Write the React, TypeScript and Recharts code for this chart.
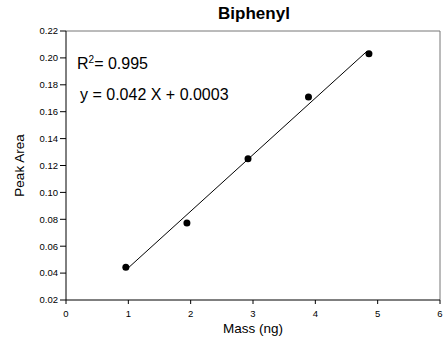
import { ScatterChart, Scatter, XAxis, YAxis, ReferenceLine } from "recharts";

// measured points
const massNg = [0.96, 1.94, 2.92, 3.89, 4.86];
const peakArea = [0.0444, 0.0772, 0.125, 0.171, 0.203];

// ends of the fitted line as drawn
const fitMass = [0.99, 4.83];
const fitArea = [0.0435, 0.205];

const xTicks = [0, 1, 2, 3, 4, 5, 6];
const yTicks = [0.02, 0.04, 0.06, 0.08, 0.1, 0.12, 0.14, 0.16, 0.18, 0.2, 0.22];

const points = massNg.map((x, i) => ({ x, y: peakArea[i] }));
const fit = fitMass.map((x, i) => ({ x, y: fitArea[i] }));

const font = "'Liberation Sans', Arial, sans-serif";
const tickStyle = { fontSize: 9.5, fill: "#000", fontFamily: font };
const labelStyle = { fontSize: 13.5, fill: "#000", fontFamily: font };

export default function App() {
  return (
    <div
      style={{
        position: "absolute",
        left: 0,
        top: 0,
        width: 445,
        height: 345,
        background: "#fff",
        fontFamily: font,
      }}
    >
      <ScatterChart
        width={445}
        height={345}
        margin={{ top: 31, right: 5, bottom: 0, left: 0 }}
      >
        <XAxis
          type="number"
          dataKey="x"
          domain={[0, 6]}
          ticks={xTicks}
          tick={tickStyle}
          tickSize={4}
          tickMargin={6}
          height={45}
          stroke="#000"
          label={{
            value: "Mass (ng)",
            position: "insideBottom",
            offset: 12,
            style: labelStyle,
          }}
        />
        <YAxis
          type="number"
          dataKey="y"
          domain={[0.02, 0.22]}
          ticks={yTicks}
          tick={tickStyle}
          tickFormatter={(v: number) => v.toFixed(2)}
          tickSize={6}
          tickMargin={2}
          width={66}
          stroke="#000"
          label={{
            value: "Peak Area",
            angle: -90,
            position: "insideLeft",
            offset: 19,
            style: { ...labelStyle, textAnchor: "middle" },
          }}
        />
        <ReferenceLine y={0.22} stroke="#777" />
        <ReferenceLine x={6} stroke="#777" />
        <Scatter
          data={fit}
          line={{ stroke: "#000", strokeWidth: 1 }}
          shape={() => <g />}
          isAnimationActive={false}
        />
        <Scatter
          data={points}
          fill="#000"
          shape={(p: any) => <circle cx={p.cx} cy={p.cy} r={3.5} fill="#000" />}
          isAnimationActive={false}
        />
      </ScatterChart>

      <div
        style={{
          position: "absolute",
          left: 0,
          width: 508,
          top: 4,
          textAlign: "center",
          fontSize: 17,
          fontWeight: "bold",
          lineHeight: "20px",
        }}
      >
        Biphenyl
      </div>
      <div style={{ position: "absolute", left: 77, top: 51, fontSize: 16, lineHeight: "18px" }}>
        R<sup style={{ fontSize: 10, verticalAlign: "6px" }}>2</sup>= 0.995
      </div>
      <div style={{ position: "absolute", left: 80, top: 86, fontSize: 16, lineHeight: "18px" }}>
        y = 0.042 X + 0.0003
      </div>
    </div>
  );
}
